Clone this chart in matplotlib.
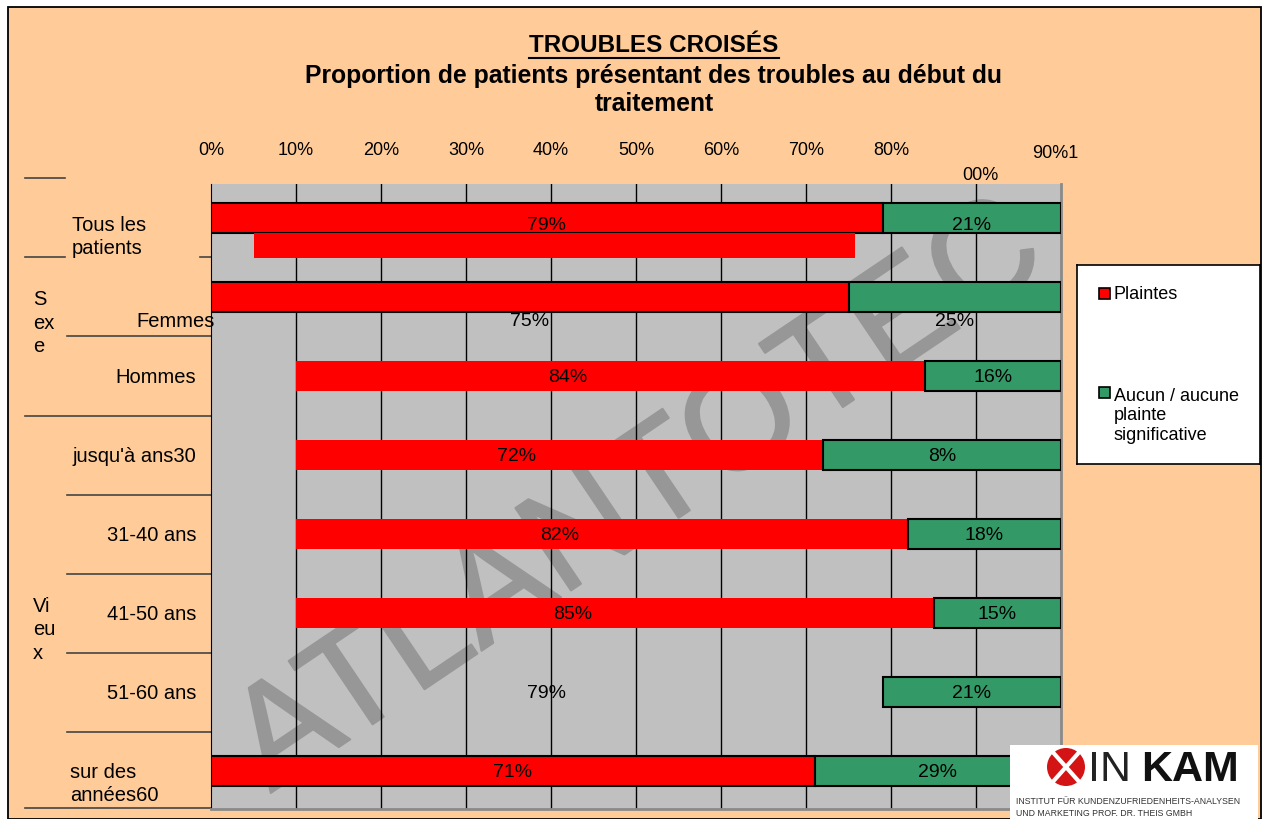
import matplotlib
matplotlib.use('Agg')
import matplotlib.pyplot as plt
import matplotlib.patheffects as pe
from matplotlib.patches import Rectangle, Ellipse
from matplotlib.lines import Line2D

plt.rcParams['font.family'] = ['Liberation Sans', 'DejaVu Sans']

# ---- data ----
categories = ['Tous les\npatients', 'Femmes', 'Hommes', "jusqu'à ans30",
              '31-40 ans', '41-50 ans', '51-60 ans', 'sur des\nannées60']
plaintes = [79, 75, 84, 72, 82, 85, 79, 71]            # red share (%)
red_start = [0, 0, 10, 10, 10, 10, None, 0]            # where the red bar starts on the slide
red_edge = [True, True, False, False, False, False, False, True]
green_labels = ['21%', '25%', '16%', '8%', '18%', '15%', '21%', '29%']
label_shift = [0.08, 0.30, 0, 0, 0, 0, 0, 0]            # vertical offset of the value labels
tick_vals = [0, 10, 20, 30, 40, 50, 60, 70, 80]
tick_labels = ['0%', '10%', '20%', '30%', '40%', '50%', '60%', '70%', '80%']
groups = ['S\nex\ne', 'Vi\neu\nx']
group_rows = [1.32, 5.2]
legend_labels = ['Plaintes', 'Aucun / aucune\nplainte\nsignificative']
# stray red block under "Tous les patients" in the scan
artifact_left, artifact_right = 5, 75.8

RED = '#FF0000'
GREEN = '#339966'
PEACH = '#FFCC99'
GRAY = '#C0C0C0'

W, H = 1263, 820
fig = plt.figure(figsize=(W / 100, H / 100), dpi=100)
fig.patch.set_facecolor('white')


def px(x, y):
    return x / W, 1 - y / H


# slide background with border
fig.patches.append(Rectangle((8 / W, 0), (1261 - 8) / W, (H - 8) / H,
                             transform=fig.transFigure, facecolor=PEACH,
                             edgecolor='black', lw=1.3, zorder=-10))

ax = fig.add_axes([211 / W, 1 - 810 / H, 850 / W, 625 / H])
ax.set_facecolor(GRAY)
ax.set_xlim(0, 100)
ax.set_ylim(7.48, -0.43)

ax.set_xticks(tick_vals)
ax.set_xticklabels(tick_labels, fontsize=13)
ax.tick_params(axis='x', top=True, labeltop=True, bottom=False, labelbottom=False,
               length=0, pad=19)
ax.set_yticks([])
for v in range(10, 100, 10):
    ax.axvline(v, color='black', lw=1, zorder=1)
ax.spines['top'].set_visible(False)
ax.spines['left'].set_color('black')
ax.spines['right'].set_color('#8a8a8a')
ax.spines['right'].set_linewidth(2)
ax.spines['bottom'].set_color('#8a8a8a')
ax.spines['bottom'].set_linewidth(2)

# watermark (kept inside the grey plot area)
ax.text(50.5, 3.55, 'ATLANTOTEC', rotation=34, ha='center', va='center',
        fontsize=104, color='#979797', zorder=0.5,
        path_effects=[pe.withStroke(linewidth=1.5, foreground='#979797')])

bh = 0.39
for i, p in enumerate(plaintes):
    if red_start[i] is not None:
        ax.barh(i, p - red_start[i], left=red_start[i], height=bh, color=RED,
                edgecolor='black' if red_edge[i] else 'none', lw=1.5, zorder=3)
    ax.barh(i, 100 - p, left=p, height=bh, color=GREEN, edgecolor='black', lw=1.5, zorder=3)
    ax.text(p / 2, i + label_shift[i], f'{p}%', ha='center', va='center',
            fontsize=14, zorder=5)
    ax.text((p + 100) / 2, i + label_shift[i], green_labels[i], ha='center',
            va='center', fontsize=14, zorder=5)

ax.barh(0.35, artifact_right - artifact_left, left=artifact_left, height=0.31,
        color=RED, edgecolor='none', zorder=4)

# garbled last tick labels of the slide
ax.text(99.3, 1.051, '90%1', transform=ax.get_xaxis_transform(), ha='center',
        va='center', fontsize=13)
ax.text(90.5, 1.016, '00%', transform=ax.get_xaxis_transform(), ha='center',
        va='center', fontsize=13)

# category labels
ytr = ax.get_yaxis_transform()
ax.text(-0.1635, 0.23, categories[0], transform=ytr, ha='left', va='center',
        fontsize=14.5, linespacing=1.25)
ax.text(0.004, 1.30, categories[1], transform=ytr, ha='right', va='center', fontsize=14.5)
for i in range(2, 7):
    ax.text(-0.0176, i, categories[i], transform=ytr, ha='right', va='center', fontsize=14.5)
ax.text(-0.166, 7.15, categories[7], transform=ytr, ha='left', va='center',
        fontsize=14.5, linespacing=1.25)
for g, r in zip(groups, group_rows):
    ax.text(-0.2094, r, g, transform=ytr, ha='left', va='center', fontsize=14.5,
            linespacing=1.3)

# separator lines on the left
seps = [(-0.5, -0.2188, -0.1718), (0.5, -0.2188, -0.1718), (0.5, -0.0129, 0),
        (1.5, -0.1694, 0), (2.5, -0.2188, 0), (3.5, -0.1694, 0), (4.5, -0.1694, 0),
        (5.5, -0.1694, 0), (6.5, -0.1694, 0), (7.47, -0.2188, 0)]
for y, x0, x1 in seps:
    ax.plot([x0, x1], [y, y], transform=ytr, color='#444444', lw=1.2, clip_on=False)

# titles
t = fig.text(*px(654, 46), 'TROUBLES CROISÉS', ha='center', va='center',
             fontsize=17.5, fontweight='bold')
fig.text(*px(654, 90), 'Proportion de patients présentant des troubles au début du\ntraitement',
         ha='center', va='center', fontsize=17.8, fontweight='bold', linespacing=1.17)
fig.canvas.draw()
bb = t.get_window_extent().transformed(fig.transFigure.inverted())
fig.lines.append(Line2D([bb.x0, bb.x1], [bb.y0 - 0.002, bb.y0 - 0.002],
                        transform=fig.transFigure, color='black', lw=1.5))

# legend box
lax = fig.add_axes([1077 / W, 1 - 465 / H, 183 / W, 199 / H])
lax.set_xlim(0, 1)
lax.set_ylim(0, 1)
lax.set_xticks([])
lax.set_yticks([])
lax.set_facecolor('white')
for s in lax.spines.values():
    s.set_linewidth(1.2)
lax.add_patch(Rectangle((0.12, 0.829), 0.06, 0.055, facecolor=RED, edgecolor='black', lw=1.2))
lax.text(0.2, 0.856, legend_labels[0], ha='left', va='center', fontsize=13)
lax.add_patch(Rectangle((0.12, 0.332), 0.06, 0.055, facecolor=GREEN, edgecolor='black', lw=1.2))
lax.text(0.2, 0.247, legend_labels[1], ha='left', va='center', fontsize=13, linespacing=1.2)

# logo
fig.patches.append(Rectangle(px(1010, 820), 248 / W, 74 / H, transform=fig.transFigure,
                             facecolor='white', edgecolor='none', zorder=5))
fig.patches.append(Ellipse(px(1066, 768), 38 / W, 38 / H, transform=fig.transFigure,
                           facecolor='#D41414', edgecolor='none', zorder=6))
for (xa, ya), (xb, yb) in [((1050, 750), (1082, 786)), ((1050, 786), (1082, 750))]:
    fig.lines.append(Line2D([px(xa, ya)[0], px(xb, yb)[0]], [px(xa, ya)[1], px(xb, yb)[1]],
                            transform=fig.transFigure, color='white', lw=3, zorder=7))
fig.text(*px(1088, 770), 'IN', ha='left', va='center', fontsize=31, color='#222222', zorder=8)
fig.text(*px(1141, 770), 'KAM', ha='left', va='center', fontsize=31, fontweight='bold',
         color='#111111', zorder=8)
fig.text(*px(1016, 802), 'INSTITUT FÜR KUNDENZUFRIEDENHEITS-ANALYSEN', ha='left',
         va='center', fontsize=6.3, color='#333333', zorder=8)
fig.text(*px(1016, 814), 'UND MARKETING PROF. DR. THEIS GMBH', ha='left',
         va='center', fontsize=6.3, color='#333333', zorder=8)

fig.savefig('out.png', dpi=100, facecolor=fig.get_facecolor())
